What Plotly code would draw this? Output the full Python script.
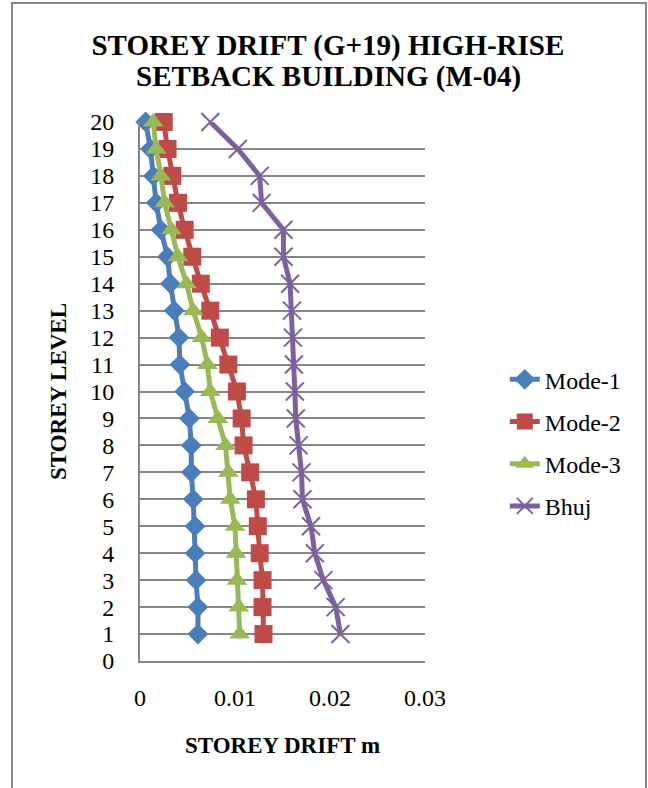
import plotly.graph_objects as go

levels = list(range(1, 21))
mode1 = [0.0061, 0.0061, 0.0059, 0.0058, 0.0058, 0.0056, 0.0054, 0.0054, 0.0052, 0.0047,
         0.0042, 0.0041, 0.0036, 0.0032, 0.0029, 0.0022, 0.0017, 0.0014, 0.0011, 0.0006]
mode2 = [0.0130, 0.0129, 0.0129, 0.0126, 0.0124, 0.0122, 0.0116, 0.0109, 0.0107, 0.0102,
         0.0093, 0.0084, 0.0074, 0.0064, 0.0055, 0.0047, 0.0040, 0.0034, 0.0029, 0.0025]
mode3 = [0.0105, 0.0104, 0.0102, 0.0101, 0.0100, 0.0095, 0.0093, 0.0090, 0.0082, 0.0074,
         0.0071, 0.0065, 0.0056, 0.0049, 0.0040, 0.0033, 0.0026, 0.0022, 0.0017, 0.0014]
bhuj = [0.0211, 0.0206, 0.0193, 0.0184, 0.0180, 0.0171, 0.0170, 0.0167, 0.0164, 0.0163,
        0.0162, 0.0161, 0.0160, 0.0158, 0.0151, 0.0151, 0.0128, 0.0126, 0.0103, 0.0074]

series = [
    ("Mode-1", mode1, "#4A7EBB", "diamond", 16),
    ("Mode-2", mode2, "#BE4B48", "square", 18),
    ("Mode-3", mode3, "#98B954", "triangle-up", 18),
    ("Bhuj", bhuj, "#7D60A0", "x-thin-open", 18),
]

x_ticks = [0, 0.01, 0.02, 0.03]
x_ticktext = ["0", "0.01", "0.02", "0.03"]
y_ticks = list(range(0, 21))
title_lines = ["STOREY DRIFT (G+19) HIGH-RISE", "SETBACK BUILDING (M-04)"]

FONT = "Liberation Serif"

fig = go.Figure()
for name, vals, color, sym, size in series:
    marker = dict(symbol=sym, size=size, color=color)
    if sym == "x-thin-open":
        marker["line"] = dict(color=color, width=2)
    fig.add_trace(go.Scatter(
        x=vals, y=levels, name=name, mode="lines+markers",
        line=dict(color=color, width=5),
        marker=marker, cliponaxis=False, legendgroup=name,
    ))

fig.update_layout(
    width=648, height=788,
    margin=dict(l=140, r=223, t=122, b=127),
    paper_bgcolor="white", plot_bgcolor="white",
    font=dict(family=FONT, color="black", size=24),
    title=dict(text="<b>" + title_lines[0] + "</b>",
               x=0.506, xanchor="center", y=1 - 45 / 788, yanchor="middle",
               font=dict(family=FONT, size=29, color="black")),
    annotations=[dict(text="<b>" + title_lines[1] + "</b>", xref="paper", yref="paper",
                      x=(328 - 140) / 285, y=(661 - 76) / 539, xanchor="center",
                      yanchor="middle", showarrow=False,
                      font=dict(family=FONT, size=29, color="black"))],
    xaxis=dict(range=[0, 0.03], tickvals=x_ticks, ticktext=x_ticktext,
               showgrid=False, zeroline=False, showline=True, linecolor="#868686",
               linewidth=2, ticks="", ticklabelstandoff=14,
               tickfont=dict(size=24),
               title=dict(text="<b>STOREY DRIFT m</b>", font=dict(size=23), standoff=27)),
    yaxis=dict(range=[0, 20], tickvals=y_ticks, showgrid=True, gridcolor="#868686",
               gridwidth=2, zeroline=False, showline=True, linecolor="#868686",
               linewidth=2, ticks="", ticklabelstandoff=19, tickfont=dict(size=24),
               title=dict(text="<b>STOREY LEVEL</b>", font=dict(size=23), standoff=17)),
    legend=dict(x=1.28, xanchor="left", y=0.405, yanchor="middle",
                font=dict(size=24, family=FONT), tracegroupgap=8,
                bgcolor="rgba(0,0,0,0)"),
    shapes=[dict(type="rect", xref="paper", yref="paper",
                 x0=(12 - 140) / 285, x1=(646 - 140) / 285,
                 y0=(661 - 820) / 539, y1=(661 - 3) / 539,
                 line=dict(color="#868686", width=2), fillcolor="rgba(0,0,0,0)",
                 layer="below")],
)

fig.write_html("out.html")
